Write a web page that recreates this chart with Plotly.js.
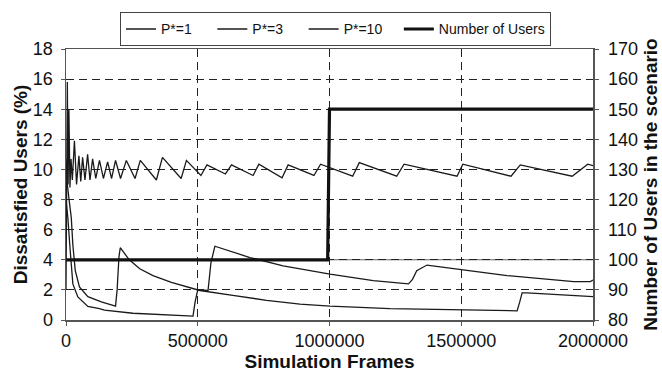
<!DOCTYPE html>
<html>
<head>
<meta charset="utf-8">
<script src="https://cdn.plot.ly/plotly-3.0.1.min.js"></script>
<style>html,body{margin:0;padding:0;background:#fff;}#chart{width:662px;height:375px;}</style>
</head>
<body>
<div id="chart"></div>
<script>
// P*=1 (oscillating series, %)
const framesP1 = [0,3000,5000,8000,11000,15000,19000,24000,32000,40000,49000,56000,63000,72000,82000,91000,101000,113000,127000,142000,158000,173000,188000,207000,229000,262000,282000,343000,366000,437000,457000,512000,535000,605000,628000,710000,732000,820000,843000,941000,966000,1088000,1113000,1255000,1283000,1484000,1506000,1689000,1724000,1921000,1980000,2000000];
const dissatP1 = [2.0,12.5,15.8,9.0,14.0,8.8,10.7,9.3,11.9,9.0,10.9,9.2,10.8,9.3,11.0,9.3,10.7,9.4,10.6,9.4,10.5,9.4,10.6,9.4,10.6,9.4,10.6,9.3,10.8,9.4,10.6,9.6,10.3,9.7,10.3,9.6,10.35,9.45,10.3,9.6,10.35,9.55,10.45,9.55,10.35,9.55,10.35,9.55,10.3,9.55,10.35,10.25];

// P*=3
const framesP3 = [0,5000,11000,20000,26000,35000,51000,83000,134000,188000,194000,201000,206000,215000,240000,280000,330000,400000,460000,508000,633000,761000,888000,1002000,1230000,1382000,1560000,1712000,1722000,1731000,1750000,1864000,2000000];
const dissatP3 = [10.7,9.0,8.1,6.8,5.0,3.3,2.2,1.55,1.2,0.92,2.0,4.2,4.8,4.6,4.0,3.4,2.95,2.5,2.2,1.96,1.63,1.31,1.05,0.92,0.76,0.70,0.65,0.61,1.2,1.8,1.8,1.7,1.55];

// P*=10
const framesP10 = [0,7000,16000,26000,45000,83000,127000,146000,254000,400000,482000,490000,500000,539000,550000,565000,633000,698000,824000,1002000,1166000,1300000,1315000,1331000,1370000,1484000,1674000,1927000,1990000,2000000];
const dissatP10 = [8.0,6.8,4.6,2.4,1.53,0.9,0.75,0.65,0.45,0.33,0.26,1.2,2.0,1.96,3.8,4.9,4.54,4.15,3.6,3.05,2.62,2.4,2.7,3.27,3.65,3.38,2.95,2.55,2.55,2.66];

// Number of users in the scenario (right axis)
const framesUsers = [0,993000,1000000,2000000];
const numUsers = [100,100,150,150];
const baseUsers = 100;

const seriesNames = ['P*=1','P*=3','P*=10','Number of Users'];
const nb = n => '\u00a0'.repeat(n);

const thin = {color:'#1a1a1a', width:1.3};
const data = [
  {x:framesP1, y:dissatP1, name:seriesNames[0] + nb(4), type:'scatter', mode:'lines', line:thin},
  {x:framesP3, y:dissatP3, name:seriesNames[1] + nb(4), type:'scatter', mode:'lines', line:thin},
  {x:framesP10, y:dissatP10, name:seriesNames[2] + nb(3), type:'scatter', mode:'lines', line:thin},
  {x:framesUsers, y:numUsers, name:seriesNames[3], type:'scatter', mode:'lines', yaxis:'y2', line:{color:'#111', width:3.2}}
];

const font = 'Liberation Sans, Arial, sans-serif';
const layout = {
  width:662, height:375,
  margin:{l:66, r:69, t:45, b:55},
  paper_bgcolor:'#fff', plot_bgcolor:'#fff',
  font:{family:font, color:'#111', size:18},
  showlegend:true,
  legend:{orientation:'h', x:0.1025, xanchor:'left', y:1.135, yanchor:'top',
    bordercolor:'#444', borderwidth:1, font:{family:font, size:14, color:'#111'},
    itemwidth:30, bgcolor:'#fff', traceorder:'normal'},
  xaxis:{range:[0,2000000], dtick:500000, tick0:0, tickformat:'d', exponentformat:'none',
    showgrid:true, gridcolor:'#222', gridwidth:1, griddash:'8px,5px',
    showline:true, linecolor:'#555', linewidth:1.5, mirror:true,
    ticks:'outside', ticklen:4, tickcolor:'#555', zeroline:false,
    tickfont:{size:18, family:font, color:'#111'},
    title:{text:'<b>Simulation Frames</b>', font:{size:19, family:font, color:'#111'}, standoff:2}},
  yaxis:{range:[0,18], dtick:2, tick0:0,
    showgrid:true, gridcolor:'#222', gridwidth:1, griddash:'8px,5px',
    showline:true, linecolor:'#555', linewidth:1.5, zeroline:false,
    ticks:'outside', ticklen:4, tickcolor:'#555', ticklabelstandoff:4,
    tickfont:{size:18, family:font, color:'#111'},
    title:{text:'<b>Dissatisfied Users (%)</b>', font:{size:19, family:font, color:'#111'}, standoff:0}},
  yaxis2:{range:[80,170], dtick:10, tick0:80, overlaying:'y', side:'right',
    showgrid:false, zeroline:false, showline:true, linecolor:'#555', linewidth:1.5,
    ticks:'outside', ticklen:4, tickcolor:'#555', ticklabelstandoff:6,
    tickfont:{size:18, family:font, color:'#111'},
    title:{text:'<b>Number of Users in the scenario</b>', font:{size:19, family:font, color:'#111'}, standoff:6}},
  shapes:[{type:'line', xref:'paper', x0:0, x1:1, yref:'y2', y0:baseUsers, y1:baseUsers,
    line:{color:'#666', width:1}, layer:'below'}]
};

Plotly.newPlot('chart', data, layout, {displayModeBar:false, staticPlot:true});
</script>
</body>
</html>
